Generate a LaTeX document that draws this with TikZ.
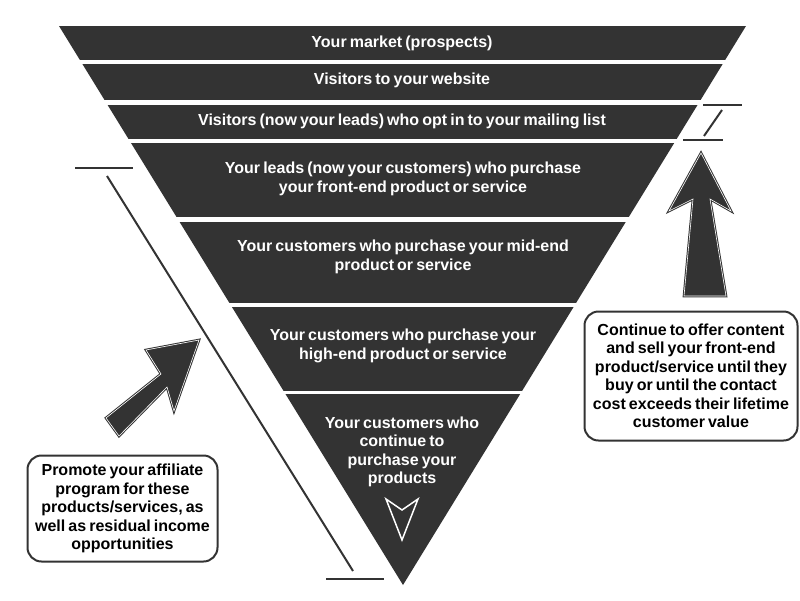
\documentclass[tikz,border=0pt]{standalone}
\usepackage{fontspec}
\setmainfont[WordSpace=0.7]{Liberation Sans}
\definecolor{fun}{HTML}{333333}
\begin{document}
\begin{tikzpicture}[x=1pt,y=-1pt,
  bandtext/.style={text=white, font=\fontsize{16}{18.5}\selectfont\bfseries, align=center, inner sep=0pt},
  boxnode/.style={draw=fun, line width=2pt, rounded corners=14pt, fill=white, text=black,
    font=\fontsize{16}{18.5}\selectfont\bfseries, align=center, inner sep=0pt},
  ln/.style={draw=fun, line width=2pt},
  bigarrow/.style={fill=fun, draw=fun, line width=1pt, double=white, double distance=0.6pt, line join=miter}]
\useasboundingbox (0,0) rectangle (800,600);
% funnel bands
\begin{scope}
\clip (59,26) -- (746,26) -- (403,585) -- cycle;
\fill[fun] (0,26) rectangle (800,60);
\fill[fun] (0,64) rectangle (800,100);
\fill[fun] (0,105) rectangle (800,139);
\fill[fun] (0,143) rectangle (800,217);
\fill[fun] (0,222) rectangle (800,303);
\fill[fun] (0,307) rectangle (800,391);
\fill[fun] (0,394) rectangle (800,590);
\end{scope}
% band texts
\node[bandtext] (b1) at (402,43) {Your market (prospects)};
\node[bandtext] (b2) at (402,80) {Visitors to your website};
\node[bandtext] (b3) at (402,121) {Visitors (now your leads) who opt in to your mailing list};
\node[bandtext] (b4) at (403,179) {Your leads (now your customers) who purchase\\your front-end product or service};
\node[bandtext] (b5) at (403,257) {Your customers who purchase your mid-end\\product or service};
\node[bandtext] (b6) at (403,346) {Your customers who purchase your\\high-end product or service};
\node[bandtext] (b7) at (402,452) {Your customers who\\continue to\\purchase your\\products};
% small arrow in bottom band
\filldraw[fill=fun, draw=white, line width=1.5pt, line join=miter]
  (386,499) -- (402,510) -- (418,499) -- (402,540) -- cycle;
% left bracket lines
\coordinate (l1a) at (75,168); \coordinate (l1b) at (133,168);
\coordinate (l2a) at (107,176); \coordinate (l2b) at (353,571);
\coordinate (l3a) at (326,579); \coordinate (l3b) at (384,579);
\draw[ln] (l1a) -- (l1b);
\draw[ln] (l2a) -- (l2b);
\draw[ln] (l3a) -- (l3b);
% right bracket lines
\coordinate (r1a) at (703,105); \coordinate (r1b) at (742,105);
\coordinate (r2a) at (722,110); \coordinate (r2b) at (704,136);
\coordinate (r3a) at (683,140); \coordinate (r3b) at (723,140);
\draw[ln] (r1a) -- (r1b);
\draw[ln] (r2a) -- (r2b);
\draw[ln] (r3a) -- (r3b);
% big arrows
\draw[bigarrow] (701,153) -- (731,211) -- (710,199) -- (726,296) -- (684,296) -- (693,199) -- (669,211) -- cycle;
\draw[bigarrow] (199,340) -- (174,411) -- (167,387) -- (119,436) -- (106,418) -- (161,374) -- (146,350) -- cycle;
% text boxes
\node[boxnode, minimum width=213pt, minimum height=129pt] (rbox) at (691,376)
  {Continue to offer content\\and sell your front-end\\product/service until they\\buy or until the contact\\cost exceeds their lifetime\\customer value};
\node[boxnode, minimum width=190pt, minimum height=106pt] (lbox) at (122.5,508.5)
  {Promote your affiliate\\program for these\\products/services, as\\well as residual income\\opportunities};
\end{tikzpicture}
\end{document}
